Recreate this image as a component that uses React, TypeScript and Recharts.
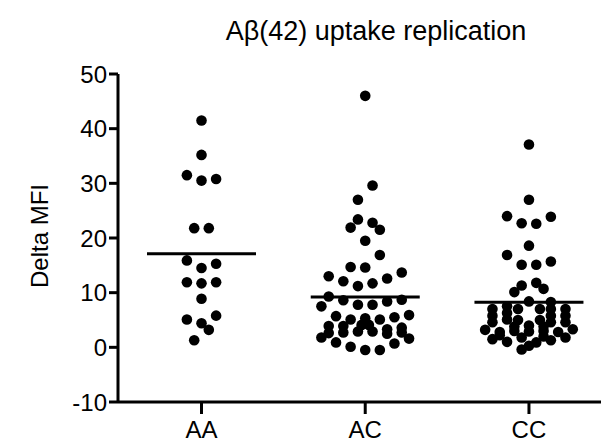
import React from 'react';
import { ScatterChart, Scatter, XAxis, YAxis } from 'recharts';

const categories = ['AA', 'AC', 'CC'];
const titleText = 'Aβ(42) uptake replication';
const yLabel = 'Delta MFI';
const yTicks = [-10, 0, 10, 20, 30, 40, 50];

// values (Delta MFI) and horizontal beeswarm slot for each point
const aaValues = [41.5, 35.2, 31.5, 30.5, 30.8, 21.8, 21.8, 15.9, 14.5, 15.3, 11.9, 11.7, 11.9, 8.9, 5.1, 4.4, 5.8, 3.2, 1.3];
const aaSlots = [0, 0, -2, 0, 2, -1, 1, -2, 0, 2, -2, 0, 2, 0, -2, 0, 2, 1, -1];

const acValues = [46.0, 29.6, 27.0, 23.4, 21.9, 22.8, 21.5, 19.5, 16.9, 14.7, 14.6, 13.0, 12.1, 11.2, 11.7, 12.6, 13.7,
  9.3, 8.6, 7.8, 7.8, 8.4, 8.7, 7.5, 5.7, 5.1, 5.3, 5.1, 5.5, 5.9, 3.9, 3.9, 4.1, 4.1, 3.3, 3.6,
  2.6, 2.7, 2.9, 2.9, 2.5, 2.7, 1.8, 1.6, 0.9, 0.7, 0.1, -0.5, -0.5];
const acSlots = [0, 1, -1, -1, -2, 1, 2, 0, 2, -2, 0, -5, -3, -1, 1, 3, 5,
  -5, -3, -1, 1, 3, 5, -6, -4, -2, 0, 2, 4, 6, -5, -3, -0.5, 0.5, 3, 5,
  -5, -3, -1, 1, 3, 5, -6, 6, -4, 4, -2, 0, 2];

const ccValues = [37.1, 27.0, 24.0, 22.7, 22.6, 23.9, 18.6, 16.9, 15.1, 15.1, 15.7, 11.3, 11.8, 10.7, 10.1,
  8.4, 7.0, 7.0, 5.0, 5.0, 4.0,
  7.0, 5.8, 4.6, 7.5, 6.3, 5.1, 8.3, 7.0, 5.8, 4.6, 7.0, 5.8, 4.6,
  3.2, 2.8, 3.0, 2.9, 3.0, 2.8, 3.3, 1.5, 1.0, 0.9, 1.3, 1.8, -0.4,
  1.8, 2.0, 3.8, 3.8, 0.3, 2.2];
const ccSlots = [0, 0, -3, -1, 1, 3, 0, -3, -1, 1, 3, -1, 1, 2, -2,
  0, -1.5, 1.5, -1.5, 1.5, 0,
  -5, -5, -5, -3, -3, -3, 3, 3, 3, 3, 5, 5, 5,
  -6, -4, -2, 0, 2, 4, 6, -5, -3, 1, 3, 5, -1,
  -1, 2, -2, 2, 0, -4];

const groupMeans = [17.1, 9.2, 8.25];

const SLOT = 0.0446;
const groups = [
  { values: aaValues, slots: aaSlots },
  { values: acValues, slots: acSlots },
  { values: ccValues, slots: ccSlots },
];
const pointData = groups.flatMap((g, gi) =>
  g.values.map((v, k) => ({ x: gi + 1 + g.slots[k] * SLOT, y: v }))
);
const meanData = groupMeans.map((m, i) => ({ x: i + 1, y: m }));

const FONT = '"Liberation Sans", Arial, Helvetica, sans-serif';

const Dot = (p: any) => <circle cx={p.cx} cy={p.cy} r={5.3} fill="#000" />;
const MeanBar = (p: any) => (
  <line x1={p.cx - 54.5} x2={p.cx + 54.5} y1={p.cy} y2={p.cy} stroke="#000" strokeWidth={3} />
);

export default function App() {
  return (
    <div style={{ position: 'absolute', left: 0, top: 0, width: 603, height: 444, background: '#fff' }}>
      <ScatterChart width={603} height={444} margin={{ top: 74, right: 2, bottom: 2, left: 0 }}>
        <XAxis
          type="number"
          dataKey="x"
          domain={[0.49, 3.44]}
          allowDataOverflow
          ticks={[1, 2, 3]}
          tickFormatter={(v: number) => categories[Math.round(v) - 1]}
          height={40}
          tickSize={12}
          tickMargin={7}
          axisLine={{ stroke: '#000', strokeWidth: 3 }}
          tickLine={{ stroke: '#000', strokeWidth: 3 }}
          tick={{ fill: '#000', fontSize: 24, fontFamily: FONT }}
        />
        <YAxis
          type="number"
          dataKey="y"
          domain={[-10, 50]}
          ticks={yTicks}
          allowDataOverflow
          width={118}
          tickSize={9}
          tickMargin={2}
          axisLine={{ stroke: '#000', strokeWidth: 3 }}
          tickLine={{ stroke: '#000', strokeWidth: 3 }}
          tick={{ fill: '#000', fontSize: 24, fontFamily: FONT }}
        />
        <Scatter data={pointData} shape={Dot} isAnimationActive={false} />
        <Scatter data={meanData} shape={MeanBar} isAnimationActive={false} />
      </ScatterChart>
      <svg width={603} height={444} style={{ position: 'absolute', left: 0, top: 0, pointerEvents: 'none' }}>
        <text x={376} y={40} textAnchor="middle" fontSize={27} fontFamily={FONT} fill="#000">{titleText}</text>
        <text x={48} y={236} transform="rotate(-90, 48, 236)" textAnchor="middle" fontSize={24} fontFamily={FONT} fill="#000">{yLabel}</text>
      </svg>
    </div>
  );
}
